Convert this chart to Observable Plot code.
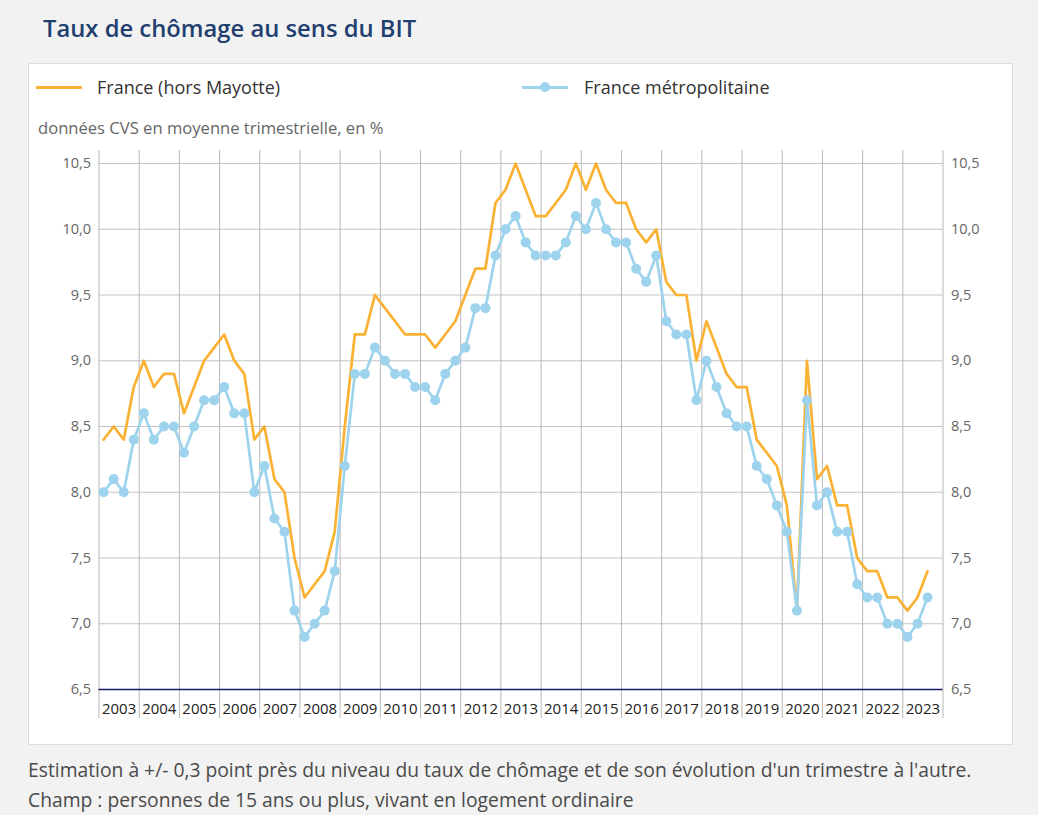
<!DOCTYPE html>
<html><head><meta charset="utf-8">
<script src="https://cdn.jsdelivr.net/npm/d3@7"></script>
<script src="https://cdn.jsdelivr.net/npm/@observablehq/plot@0.6"></script>
<style>
body{margin:0;background:#f2f2f2;font-family:"Open Sans",sans-serif;width:1038px;height:815px;position:relative;overflow:hidden}
.abs{position:absolute;white-space:nowrap}
#chart{position:absolute;left:28px;top:145px}
</style></head><body>
<div class="abs" style="left:43px;top:12px;font-size:23.8px;line-height:32px;font-weight:600;color:#1f3f70">Taux de chômage au sens du BIT</div>
<div class="abs" style="left:28px;top:63px;width:985px;height:682px;background:#fff;border:1px solid #dedede;box-sizing:border-box"></div>
<div class="abs" style="left:36px;top:85.5px;width:46px;height:3px;background:#f9b233"></div>
<div class="abs" style="left:97px;top:74px;font-size:18px;line-height:26px;color:#333">France (hors Mayotte)</div>
<div class="abs" style="left:522px;top:85.5px;width:46px;height:3px;background:#9dd3ed"></div>
<div class="abs" style="left:540px;top:82px;width:10px;height:10px;border-radius:50%;background:#9dd3ed"></div>
<div class="abs" style="left:584px;top:74px;font-size:18px;line-height:26px;color:#333">France métropolitaine</div>
<div class="abs" style="left:38px;top:117px;font-size:16.6px;line-height:22px;color:#666">données CVS en moyenne trimestrielle, en %</div>
<div id="chart"></div>
<div class="abs" style="left:28px;top:756px;font-size:19.3px;line-height:28px;color:#4a4a4a">Estimation à +/- 0,3 point près du niveau du taux de chômage et de son évolution d'un trimestre à l'autre.</div>
<div class="abs" style="left:28px;top:786px;font-size:19.3px;line-height:28px;color:#4a4a4a">Champ : personnes de 15 ans ou plus, vivant en logement ordinaire</div>
<script>
const years = [2003,2004,2005,2006,2007,2008,2009,2010,2011,2012,2013,2014,2015,2016,2017,2018,2019,2020,2021,2022,2023];
const quarterOffsets = [0, 0.25, 0.5, 0.75];
const franceHorsMayotte = [
  8.4, 8.5, 8.4, 8.8,
  9.0, 8.8, 8.9, 8.9,
  8.6, 8.8, 9.0, 9.1,
  9.2, 9.0, 8.9, 8.4,
  8.5, 8.1, 8.0, 7.5,
  7.2, 7.3, 7.4, 7.7,
  8.5, 9.2, 9.2, 9.5,
  9.4, 9.3, 9.2, 9.2,
  9.2, 9.1, 9.2, 9.3,
  9.5, 9.7, 9.7, 10.2,
  10.3, 10.5, 10.3, 10.1,
  10.1, 10.2, 10.3, 10.5,
  10.3, 10.5, 10.3, 10.2,
  10.2, 10.0, 9.9, 10.0,
  9.6, 9.5, 9.5, 9.0,
  9.3, 9.1, 8.9, 8.8,
  8.8, 8.4, 8.3, 8.2,
  7.9, 7.1, 9.0, 8.1,
  8.2, 7.9, 7.9, 7.5,
  7.4, 7.4, 7.2, 7.2,
  7.1, 7.2, 7.4
];
const franceMetropolitaine = [
  8.0, 8.1, 8.0, 8.4,
  8.6, 8.4, 8.5, 8.5,
  8.3, 8.5, 8.7, 8.7,
  8.8, 8.6, 8.6, 8.0,
  8.2, 7.8, 7.7, 7.1,
  6.9, 7.0, 7.1, 7.4,
  8.2, 8.9, 8.9, 9.1,
  9.0, 8.9, 8.9, 8.8,
  8.8, 8.7, 8.9, 9.0,
  9.1, 9.4, 9.4, 9.8,
  10.0, 10.1, 9.9, 9.8,
  9.8, 9.8, 9.9, 10.1,
  10.0, 10.2, 10.0, 9.9,
  9.9, 9.7, 9.6, 9.8,
  9.3, 9.2, 9.2, 8.7,
  9.0, 8.8, 8.6, 8.5,
  8.5, 8.2, 8.1, 7.9,
  7.7, 7.1, 8.7, 7.9,
  8.0, 7.7, 7.7, 7.3,
  7.2, 7.2, 7.0, 7.0,
  6.9, 7.0, 7.2
];
const yTicks = [6.5, 7.0, 7.5, 8.0, 8.5, 9.0, 9.5, 10.0, 10.5];

const ORANGE = "#f9b233", BLUE = "#9dd3ed";
const rows = franceMetropolitaine.map((m, i) => ({
  t: years[0] + Math.floor(i / 4) + quarterOffsets[i % 4] + 0.115,
  france: franceHorsMayotte[i],
  metro: m
}));
const yearEdges = years.concat([years[years.length - 1] + 1]);
const fmt = d => d3.format(".1f")(d).replace(".", ",");

const chart = Plot.plot({
  width: 985, height: 584,
  marginLeft: 70.5, marginRight: 70.5, marginTop: 18, marginBottom: 40,
  x: {type: "linear", domain: [yearEdges[0], yearEdges[yearEdges.length - 1]]},
  y: {domain: [6.5, 10.5]},
  style: {fontFamily: '"Open Sans", sans-serif', background: "transparent", overflow: "visible"},
  marks: [
    Plot.ruleY(yTicks, {stroke: "#c4c4c4", strokeWidth: 1}),
    Plot.ruleX(yearEdges, {stroke: "#b8b8b8", strokeWidth: 1, insetTop: -13, insetBottom: -29}),
    Plot.ruleY([6.5], {stroke: "#1b1b6b", strokeWidth: 1.5}),
    Plot.axisY({anchor: "left", ticks: yTicks, tickFormat: fmt, tickSize: 0, tickPadding: 8, fontSize: 14.5, color: "#666", label: null}),
    Plot.axisY({anchor: "right", ticks: yTicks, tickFormat: fmt, tickSize: 0, tickPadding: 8, fontSize: 14.5, color: "#666", label: null}),
    Plot.axisX({ticks: years.map(y => y + 0.5), tickFormat: d => String(Math.floor(d)), tickSize: 0, tickPadding: 14, fontSize: 15, color: "#222", label: null}),
    Plot.line(rows, {x: "t", y: "france", stroke: ORANGE, strokeWidth: 2.7}),
    Plot.line(rows, {x: "t", y: "metro", stroke: BLUE, strokeWidth: 2.7}),
    Plot.dot(rows, {x: "t", y: "metro", r: 5, fill: BLUE})
  ]
});
document.getElementById("chart").appendChild(chart);
</script>
</body></html>
